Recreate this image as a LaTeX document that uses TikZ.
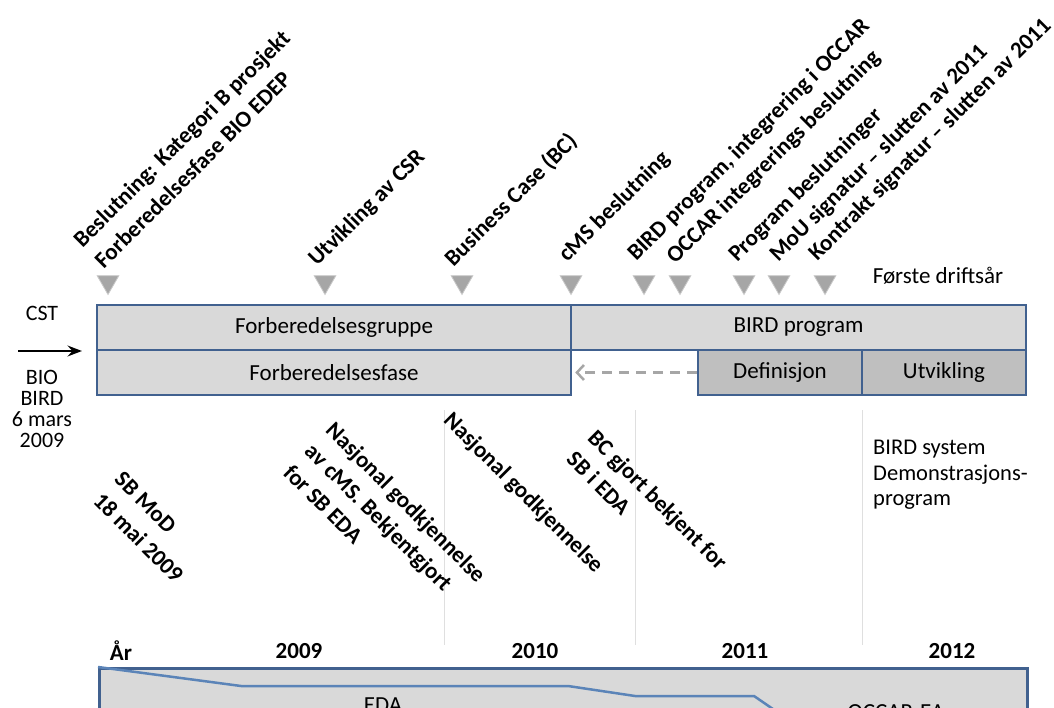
\documentclass[tikz,border=0pt]{standalone}
\usepackage{fontspec}
\setmainfont{Carlito}
\usepackage{tikz}
\usetikzlibrary{arrows.meta,
shapes.geometric
}
\tikzset{>={Stealth[scale=1]}}
\definecolor{barblue}{HTML}{41618F}
\definecolor{lineblue}{HTML}{5B84B8}
\definecolor{barfill}{HTML}{D9D9D9}
\definecolor{darkfill}{HTML}{BFBFBF}
\definecolor{markgray}{HTML}{A6A6A6}
\tikzset{
  bar/.style={draw=barblue, line width=2.5pt, fill=barfill, inner sep=0pt,
    minimum height=45pt, font=\fontsize{23}{27}\selectfont},
  darkbar/.style={bar, fill=darkfill},
  marker/.style={regular polygon, regular polygon sides=3, shape border rotate=180,
    fill=markgray, draw=markgray!60, line width=0.8pt, minimum size=25pt, inner sep=0pt},
  toplabel/.style={rotate=45, anchor=south west, inner sep=0pt, align=left,
    font=\bfseries\fontsize{23}{30}\selectfont},
  lowlabel/.style={rotate=-45, anchor=north west, inner sep=0pt, align=left,
    font=\bfseries\fontsize{23}{30}\selectfont},
  plain/.style={inner sep=0pt, font=\fontsize{23}{27}\selectfont},
  year/.style={inner sep=0pt, font=\bfseries\fontsize{23}{27}\selectfont},
  gridline/.style={draw=gray!25, line width=0.8pt}
}

\begin{document}
\begin{tikzpicture}[x=1pt, y=-1pt]
            \useasboundingbox (0,0) rectangle (1054,708);
            \clip (0,0) rectangle (1054,708);

            \draw[gridline] (444,410) -- (444,645);
            \draw[gridline] (635,410) -- (635,645);
            \draw[gridline] (862,410) -- (862,645);

            \node[marker] (m1) at (108,282) {};
            \node[marker] (m2) at (325,282) {};
            \node[marker] (m3) at (462,282) {};
            \node[marker] (m4) at (571,282) {};
            \node[marker] (m5) at (644,282) {};
            \node[marker] (m6) at (680,282) {};
            \node[marker] (m7) at (744,282) {};
            \node[marker] (m8) at (779,282) {};
            \node[marker] (m9) at (825,282) {};

            \node[toplabel] (beslutning) at (104,270) {Beslutning: Kategori B prosjekt\\Forberedelsesfase BIO EDEP};
            \node[toplabel] (csr) at (320,270) {Utvikling av CSR};
            \node[toplabel] (bc) at (456,270) {Business Case (BC)};
            \node[toplabel] (cms) at (570,266) {cMS beslutning};
            \node[toplabel] (birdint) at (639,265) {BIRD program, integrering i OCCAR};
            \node[toplabel] (occarint) at (678,268) {OCCAR integrerings beslutning};
            \node[toplabel] (progbes) at (740,266) {Program beslutninger};
            \node[toplabel] (mou) at (781,266) {MoU signatur – slutten av 2011};
            \node[toplabel] (kontrakt) at (820,265) {Kontrakt signatur – slutten av 2011};
            \node[plain] (drift) at (938,276) {Første driftsår};

            \node[bar, minimum width=474pt] (gruppe) at (334,327.5) {Forberedelsesgruppe};
            \node[bar, minimum width=455pt] (birdprog) at (798.5,327.5) {BIRD program};
            \node[bar, minimum width=474pt] (fase) at (334,372.5) {Forberedelsesfase};
            \node[darkbar, minimum width=164pt] (def) at (780,372.5) {Definisjon};
            \node[darkbar, minimum width=164pt] (utv) at (944,372.5) {Utvikling};
            \draw[markgray, line width=2.5pt, dash pattern=on 10pt off 7pt,
              -{Straight Barb[length=7pt, width=15pt]}, shorten >=3pt] (def.west) -- (fase.east);

            \node[plain, font=\fontsize{22}{21}\selectfont] (cst) at (42,313) {CST};
            \coordinate (arrowstart) at (18,351);
            \coordinate (arrowend) at (82,351);
            \draw[->, line width=2.5pt] (arrowstart) -- (arrowend);
            \node[plain, align=center, font=\fontsize{22}{21}\selectfont] (bio) at (42,409) {BIO\\BIRD\\6 mars\\2009};

            \node[lowlabel] (sbmod) at (124,470) {SB MoD\\18 mai 2009};
            \node[lowlabel] (nasjonal1) at (336,420) {Nasjonal godkjennelse\\av cMS. Bekjentgjort\\for SB EDA};
            \node[lowlabel] (nasjonal2) at (454,410) {Nasjonal godkjennelse};
            \node[lowlabel] (bcgjort) at (598,428) {BC gjort bekjent for\\SB i EDA};
            \node[plain, align=left, anchor=north west, font=\fontsize{22.5}{25.5}\selectfont] (demo) at (873,440) {BIRD system\\Demonstrasjons-\\program};

            \node[year] (aar) at (121,651) {År};
            \node[year] (y2009) at (299,651) {2009};
            \node[year] (y2010) at (535,651) {2010};
            \node[year] (y2011) at (745,651) {2011};
            \node[year] (y2012) at (952,651) {2012};

            \node[bar, minimum width=928pt, minimum height=90pt, anchor=north west] (org) at (98,667) {};
            \draw[lineblue, line width=2.5pt] (org.north west) -- (241,686) -- (568,686) -- (635,696) -- (754,696) -- (786,718);
            \node[plain] (eda) at (383,705) {EDA};
            \node[plain] (occar) at (896,712) {OCCAR-EA};

        \end{tikzpicture}
\end{document}
